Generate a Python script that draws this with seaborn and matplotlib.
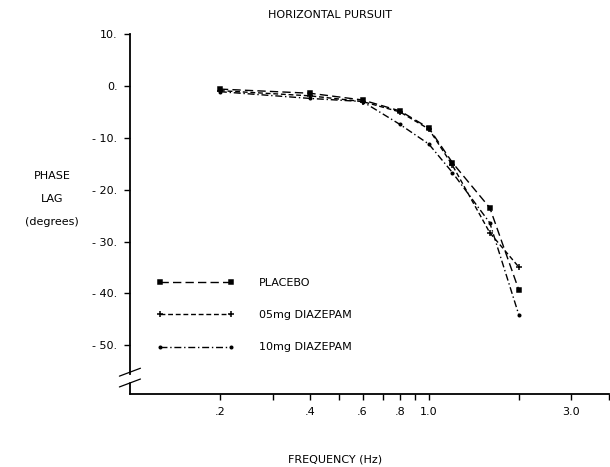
import matplotlib
matplotlib.use("Agg")
import matplotlib.pyplot as plt
import seaborn as sns

# data
freq = [0.2, 0.4, 0.6, 0.8, 1.0, 1.2, 1.6, 2.0]
placebo = [-0.6, -1.4, -2.7, -4.8, -8.1, -14.8, -23.5, -39.3]
diazepam_05 = [-0.9, -1.9, -3.0, -5.0, -8.3, -15.3, -28.3, -34.9]
diazepam_10 = [-1.1, -2.4, -3.0, -7.4, -11.2, -16.7, -26.4, -44.1]
labels = ["PLACEBO", "05mg DIAZEPAM", "10mg DIAZEPAM"]

y_ticks = [10, 0, -10, -20, -30, -40, -50]
y_ticklabels = ["10.", "0.", "- 10.", "- 20.", "- 30.", "- 40.", "- 50."]
x_ticks = [0.2, 0.3, 0.4, 0.5, 0.6, 0.7, 0.8, 0.9, 1.0, 2.0, 3.0, 4.0]
x_ticklabels = [".2", "", ".4", "", ".6", "", ".8", "", "1.0", "", "3.0", ""]

sns.set_style("ticks")
plt.rcParams["font.family"] = ["DejaVu Sans"]
plt.rcParams["font.size"] = 8
plt.rcParams["text.color"] = "black"
plt.rcParams["xtick.color"] = "black"
plt.rcParams["ytick.color"] = "black"
plt.rcParams["axes.labelcolor"] = "black"

fig = plt.figure(figsize=(6.1, 4.67), dpi=100)
ax = fig.add_axes([0.213, 0.156, 0.785, 0.771])

styles = [
    (placebo, (0, (6, 3)), "s", 3),
    (diazepam_05, (0, (3.5, 2)), "+", 4.5),
    (diazepam_10, (0, (5, 2, 1, 2)), "o", 1.8),
]
for (vals, ls, mk, ms), lab in zip(styles, labels):
    sns.lineplot(x=freq, y=vals, ax=ax, color="black", linestyle=ls,
                 linewidth=1.0, marker=mk, markersize=ms, markeredgewidth=1.1,
                 markerfacecolor="black", markeredgecolor="black", label=lab)

ax.set_xscale("log")
ax.set_xlim(0.1, 4.0)
ax.set_ylim(-59.4, 10)
ax.set_xticks(x_ticks)
ax.set_xticklabels(x_ticklabels)
ax.minorticks_off()
ax.set_yticks(y_ticks)
ax.set_yticklabels(y_ticklabels)
ax.tick_params(axis="both", direction="out", length=4, width=1, color="black",
               labelsize=8, pad=5)

for side in ["top", "right"]:
    ax.spines[side].set_visible(False)
for side in ["left", "bottom"]:
    ax.spines[side].set_color("black")
    ax.spines[side].set_linewidth(1.3)

# axis break on the y axis
ax.spines["left"].set_bounds(-55.5, 10)
ax.plot([0, 0], [0, 0.03], transform=ax.transAxes, color="black",
        linewidth=1.3, clip_on=False)
ax.plot([-0.022, 0.022], [0.05, 0.072], transform=ax.transAxes, color="black",
        linewidth=0.9, clip_on=False)
ax.plot([-0.022, 0.022], [0.02, 0.042], transform=ax.transAxes, color="black",
        linewidth=0.9, clip_on=False)

ax.set_xlabel("")
ax.set_ylabel("PHASE\nLAG\n(degrees)", rotation=0, linespacing=2.6,
              fontsize=8, ha="center", va="center")
ax.yaxis.set_label_coords(-0.163, 0.542)

ax.legend(loc="upper left", bbox_to_anchor=(0.045, 0.338), frameon=False,
          numpoints=2, handlelength=7, handletextpad=2.2, labelspacing=2.0,
          borderpad=0, fontsize=8)

fig.text(0.541, 0.968, "HORIZONTAL PURSUIT", ha="center", va="center", fontsize=8)
fig.text(0.55, 0.015, "FREQUENCY (Hz)", ha="center", va="center", fontsize=8)

fig.savefig("out.png", dpi=100, facecolor="white")
